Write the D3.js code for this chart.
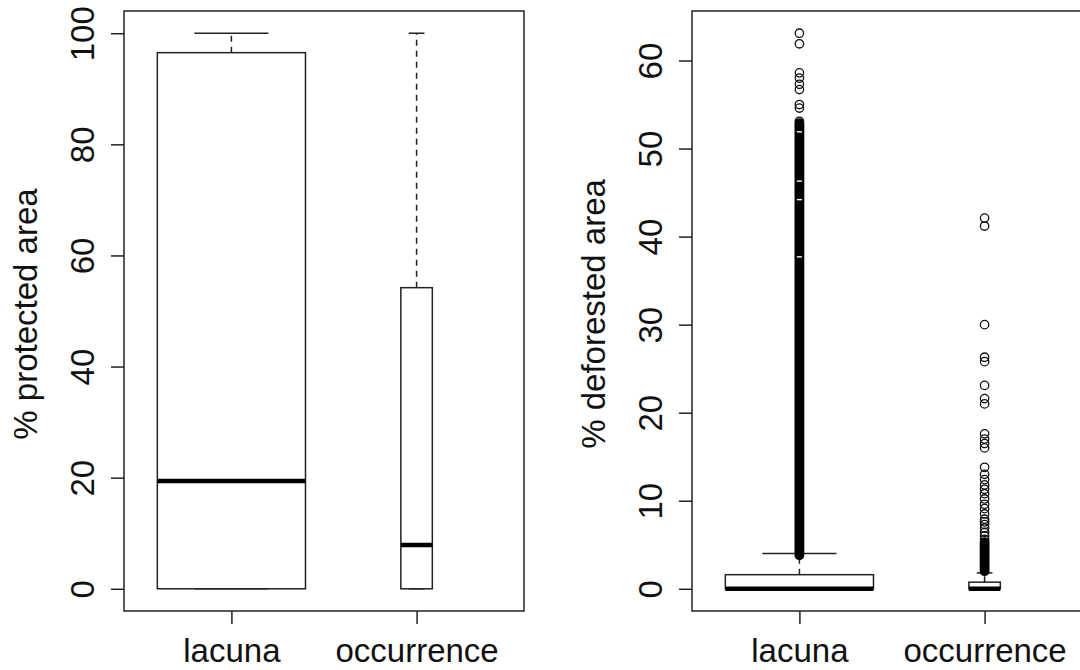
<!DOCTYPE html>
<html>
<head>
<meta charset="utf-8">
<script src="https://cdn.jsdelivr.net/npm/d3@7"></script>
<style>
  body { margin: 0; background: #fff; }
  svg text { font-family: "Liberation Sans", Arial, sans-serif; fill: #111; }
</style>
</head>
<body>
<div id="chart"></div>
<script>
'use strict'

const WIDTH = 1080
const HEIGHT = 670
const LINE = '#222'
const FONT_SIZE = 33

// groups and box statistics
const categories = ['lacuna', 'occurrence']

const protectedLower = [0, 0]
const protectedQ1 = [0, 0]
const protectedMedian = [19.4, 7.9]
const protectedQ3 = [96.5, 54.2]
const protectedUpper = [100, 100]
const protectedTicks = [0, 20, 40, 60, 80, 100]

const deforestedLower = [0, 0]
const deforestedQ1 = [0, 0]
const deforestedMedian = [0, 0]
const deforestedQ3 = [1.6, 0.75]
const deforestedUpper = [4.0, 1.8]
const deforestedTicks = [0, 10, 20, 30, 40, 50, 60]

// single outliers that can still be told apart
const lacunaOutliers = [53.1, 54.6, 55.0, 56.7, 57.3, 58.0, 58.6, 61.9, 63.1]
const occurrenceOutliers = [
  5.6, 6.0, 6.4, 6.9, 7.3, 7.6, 7.9, 8.5, 9.1, 9.6, 10.2, 10.8, 11.3, 11.8,
  12.4, 13.0, 13.8, 16.0, 16.5, 17.0, 17.6, 21.0, 21.6, 23.1, 25.8, 26.3,
  30.0, 41.2, 42.1
]
// ranges so packed with outliers that the circles merge into a solid bar
const lacunaDense = [[3.8, 52.9]]
const occurrenceDense = [[2.0, 5.3]]
// small holes in the lacuna bar
const lacunaDenseGaps = [37.7, 44.2, 46.3, 51.9]

// relative box widths (varwidth)
const BOX_WIDTHS = [0.8, 0.17]
const POINT_RADIUS = 4.2

function drawPanel (svg, panel) {
  const n = categories.length
  const x = d3.scaleLinear()
    .domain([0.5 - 0.04 * n, n + 0.5 + 0.04 * n])
    .range([panel.left, panel.left + 400])
  const pad = 0.04 * panel.yMax
  const y = d3.scaleLinear()
    .domain([-pad, panel.yMax + pad])
    .range([611, 11])

  const g = svg.append('g')

  // y axis with labels parallel to the axis
  const yAxis = g.append('g')
    .attr('transform', `translate(${panel.left},0)`)
    .call(d3.axisLeft(y).tickValues(panel.ticks).tickSize(13).tickFormat(d3.format('d')))
  yAxis.select('.domain').remove()
  yAxis.selectAll('line').attr('stroke', LINE).attr('stroke-width', 1.5)
  yAxis.selectAll('text')
    .attr('transform', 'rotate(-90)')
    .attr('x', 0)
    .attr('y', -30.5)
    .attr('dy', null)
    .attr('text-anchor', 'middle')
    .attr('font-size', FONT_SIZE)
    .attr('fill', '#111')

  const xAxis = g.append('g')
    .attr('transform', 'translate(0,611)')
    .call(d3.axisBottom(x).tickValues(d3.range(1, n + 1)).tickSize(13)
      .tickFormat((i) => categories[i - 1]))
  xAxis.select('.domain').remove()
  xAxis.selectAll('line').attr('stroke', LINE).attr('stroke-width', 1.5)
  xAxis.selectAll('text')
    .attr('y', 50.7)
    .attr('dy', null)
    .attr('font-size', FONT_SIZE)
    .attr('fill', '#111')

  g.append('text')
    .attr('transform', `translate(${panel.left - 87},${(y.range()[0] + y.range()[1]) / 2 + 3}) rotate(-90)`)
    .attr('text-anchor', 'middle')
    .attr('font-size', FONT_SIZE)
    .text(panel.title)

  g.append('rect')
    .attr('x', x.range()[0])
    .attr('y', 11)
    .attr('width', x.range()[1] - x.range()[0])
    .attr('height', 600)
    .attr('fill', 'none')
    .attr('stroke', LINE)
    .attr('stroke-width', 1.5)

  categories.forEach((cat, i) => {
    const cx = x(i + 1)
    const half = (x(BOX_WIDTHS[i]) - x(0)) / 2
    const staple = half / 2
    const box = g.append('g')

    // whiskers
    box.selectAll('line.whisker')
      .data([[panel.q3[i], panel.upper[i]], [panel.q1[i], panel.lower[i]]])
      .enter()
      .append('line')
      .attr('x1', cx).attr('x2', cx)
      .attr('y1', (d) => y(d[0]))
      .attr('y2', (d) => y(d[1]))
      .attr('stroke', LINE)
      .attr('stroke-width', 1.5)
      .attr('stroke-dasharray', '6,5')

    box.selectAll('line.staple')
      .data([panel.upper[i], panel.lower[i]])
      .enter()
      .append('line')
      .attr('x1', cx - staple).attr('x2', cx + staple)
      .attr('y1', (d) => y(d)).attr('y2', (d) => y(d))
      .attr('stroke', LINE)
      .attr('stroke-width', 1.5)

    box.append('rect')
      .attr('x', cx - half)
      .attr('y', y(panel.q3[i]))
      .attr('width', half * 2)
      .attr('height', y(panel.q1[i]) - y(panel.q3[i]))
      .attr('fill', '#fff')
      .attr('stroke', LINE)
      .attr('stroke-width', 1.5)

    box.append('line')
      .attr('x1', cx - half).attr('x2', cx + half)
      .attr('y1', y(panel.median[i])).attr('y2', y(panel.median[i]))
      .attr('stroke', '#000')
      .attr('stroke-width', 4.5)

    const dense = panel.dense[i] || []
    box.selectAll('line.dense')
      .data(dense)
      .enter()
      .append('line')
      .attr('x1', cx).attr('x2', cx)
      .attr('y1', (d) => y(d[0]))
      .attr('y2', (d) => y(d[1]))
      .attr('stroke', '#000')
      .attr('stroke-width', POINT_RADIUS * 2 + 1.4)
      .attr('stroke-linecap', 'round')

    box.selectAll('line.gap')
      .data(panel.gaps[i] || [])
      .enter()
      .append('line')
      .attr('x1', cx - 2.5).attr('x2', cx + 2.5)
      .attr('y1', (d) => y(d)).attr('y2', (d) => y(d))
      .attr('stroke', '#fff')
      .attr('stroke-width', 1.4)

    box.selectAll('circle')
      .data(panel.outliers[i] || [])
      .enter()
      .append('circle')
      .attr('cx', cx)
      .attr('cy', (d) => y(d))
      .attr('r', POINT_RADIUS)
      .attr('fill', 'none')
      .attr('stroke', '#111')
      .attr('stroke-width', 1.3)
  })
}

function main () {
  const svg = d3.select('#chart')
    .append('svg')
    .attr('width', WIDTH)
    .attr('height', HEIGHT)
    .style('display', 'block')

  svg.append('rect').attr('width', WIDTH).attr('height', HEIGHT).attr('fill', '#fff')

  drawPanel(svg, {
    left: 124,
    yMax: d3.max(protectedUpper),
    ticks: protectedTicks,
    title: '% protected area',
    lower: protectedLower,
    q1: protectedQ1,
    median: protectedMedian,
    q3: protectedQ3,
    upper: protectedUpper,
    outliers: [],
    dense: [],
    gaps: []
  })

  drawPanel(svg, {
    left: 692,
    yMax: d3.max([...lacunaOutliers, ...occurrenceOutliers]),
    ticks: deforestedTicks,
    title: '% deforested area',
    lower: deforestedLower,
    q1: deforestedQ1,
    median: deforestedMedian,
    q3: deforestedQ3,
    upper: deforestedUpper,
    outliers: [lacunaOutliers, occurrenceOutliers],
    dense: [lacunaDense, occurrenceDense],
    gaps: [lacunaDenseGaps, []]
  })
}

main()
</script>
</body>
</html>
